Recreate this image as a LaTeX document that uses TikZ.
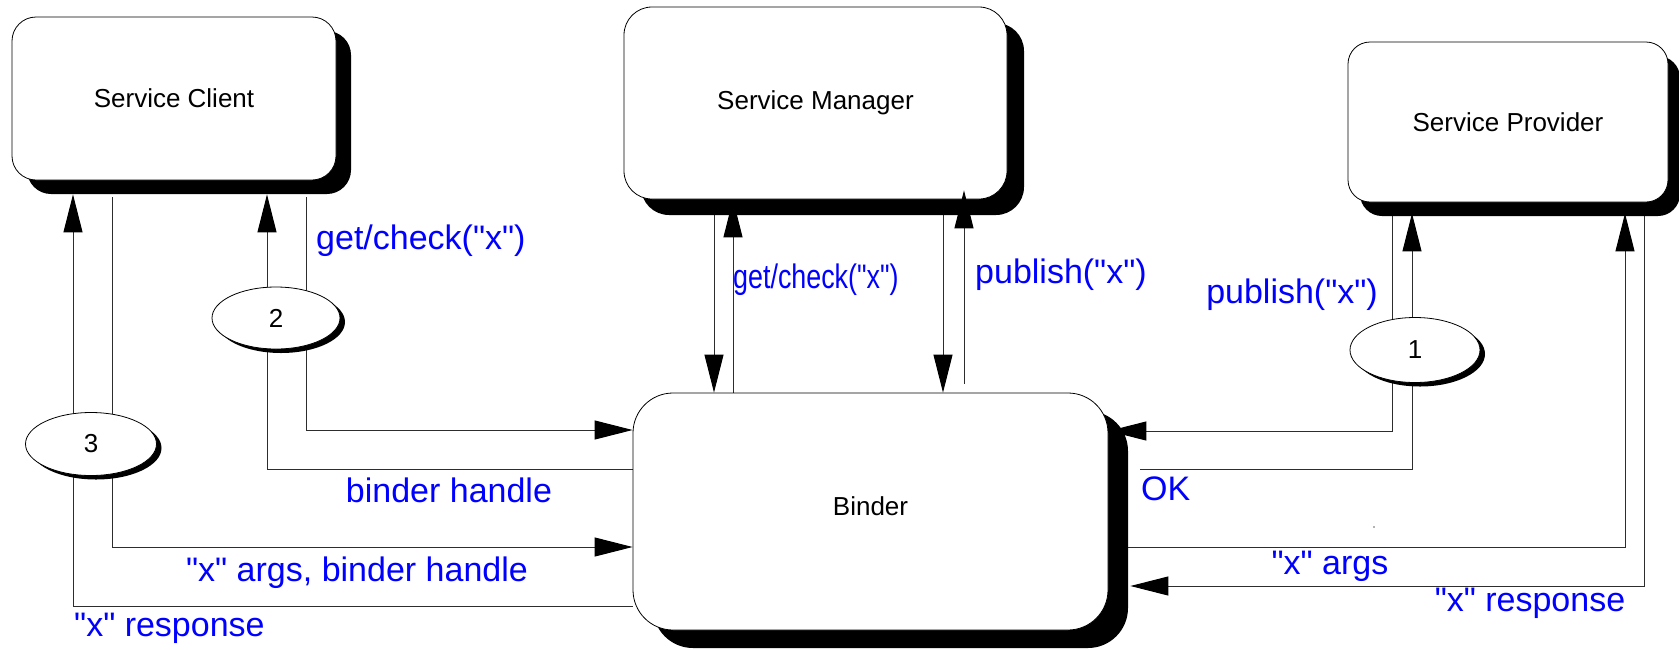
\documentclass[tikz,border=0pt]{standalone}
\usepackage{fontspec}
\setmainfont{Liberation Sans}[Ligatures=TeXOff]
\usepackage{graphicx}
\usetikzlibrary{arrows.meta,shadows,calc,backgrounds,shapes.geometric}
\definecolor{lblblue}{RGB}{0,0,255}
\definecolor{wire}{RGB}{45,45,45}
\begin{document}
\begin{tikzpicture}[x=1pt,y=-1pt,
  box/.style={draw=black, line width=0.8pt, fill=white, rectangle, inner sep=0pt,
    font=\fontsize{26}{30}\selectfont},
  bubble/.style={draw=black, line width=0.8pt, fill=white, ellipse, inner sep=0pt,
    font=\fontsize{26}{30}\selectfont,
    drop shadow={shadow xshift=5pt, shadow yshift=-4pt, fill=black, opacity=1}},
  lbl/.style={text=lblblue, inner sep=0pt, font=\fontsize{34}{40}\selectfont},
  conn/.style={draw=wire, line width=1pt},
  arr/.style={conn, -{Triangle[length=38pt,width=19pt,color=black]}}]

\useasboundingbox (0,0) rectangle (1679,649);

% process boxes
\node[box, minimum width=324pt, minimum height=163pt, rounded corners=24pt,
  drop shadow={shadow xshift=15pt, shadow yshift=-14pt, fill=black, opacity=1}]
  (client) at (174,98.5) {Service Client};
\node[box, minimum width=383pt, minimum height=192pt, rounded corners=28pt,
  drop shadow={shadow xshift=17pt, shadow yshift=-16pt, fill=black, opacity=1}]
  (manager) at (815.5,103) {Service Manager};
\node[box, minimum width=320pt, minimum height=160pt, rounded corners=22pt,
  drop shadow={shadow xshift=12pt, shadow yshift=-14pt, fill=black, opacity=1}]
  (provider) at (1508,122) {Service Provider};
\node[box, minimum width=475pt, minimum height=237pt, rounded corners=40pt, text depth=10pt,
  drop shadow={shadow xshift=20pt, shadow yshift=-18pt, fill=black, opacity=1}]
  (binder) at (870.5,511.5) {Binder};

% step bubbles
\node[bubble, minimum width=130pt, minimum height=65pt] (e1) at (1415,350) {1};
\node[bubble, minimum width=128pt, minimum height=62pt] (e2) at (276,318) {2};
\node[bubble, minimum width=131pt, minimum height=63pt] (e3) at (91,444) {3};

\begin{scope}[on background layer]
  % client side
  \draw[arr] (e3.center -| 73,0) -- ($(client.south -| 73,0)+(0,14)$);
  \draw[conn] ($(client.south -| 112,0)+(0,17)$) -- (e3.center -| 112,0);
  \draw[arr] (e2.center -| 267,0) -- ($(client.south -| 267,0)+(0,14)$);
  \draw[conn] ($(client.south -| 306,0)+(0,17)$) -- (e2.center -| 306,0);
  \draw[arr] (e2.center -| 306,0) |- (binder.west |- 0,430);
  \draw[conn] (binder.west |- 0,469) -| (e2.center -| 267,0);
  \draw[arr] (e3.center -| 112,0) |- (binder.west |- 0,547);
  \draw[conn] (binder.west |- 0,606) -| (e3.center -| 73,0);
  % manager
  \draw[arr] (manager.south -| 714,0) -- (binder.north -| 714,0);
  \draw[arr] (binder.north -| 733,0) -- (manager.south -| 733,0);
  \draw[arr] (manager.south -| 943,0) -- (binder.north -| 943,0);
  % provider side
  \draw[conn] (provider.south -| 1392,0) -- (e1.center -| 1392,0);
  \draw[arr] (e1.center -| 1412,0) -- ($(provider.south -| 1412,0)+(0,11)$);
  \draw[arr] (e1.center -| 1392,0) |- (binder.east |- 0,431);
  \draw[conn] ($(binder.east |- 0,469)+(32,0)$) -| (e1.center -| 1412,0);
  \draw[arr] ($(binder.east |- 0,547)+(20,0)$) -| ($(provider.south -| 1625,0)+(0,11)$);
  \draw[arr] (provider.south -| 1644,0) |- ($(binder.east |- 0,586)+(22,0)$);
\end{scope}

% publish arrow reaching into the manager box
\draw[arr] ($(binder.north -| 964,0)+(0,-9)$) -- ($(manager.south -| 964,0)+(0,-9)$);

% message labels
\node[lbl, anchor=base west] (lgcA) at (316,249) {get/check("x")};
\node[lbl, anchor=base] (lbhA) at (449,502) {binder handle};
\node[lbl, anchor=base] (largsA) at (357,581) {"x" args, binder handle};
\node[lbl, anchor=base west] (lrespA) at (74,636) {"x" response};
\node[lbl, anchor=base west] (lgcB) at (733,288) {\scalebox{0.79}[1]{get/check("x")}};
\node[lbl, anchor=base west] (lpubB) at (975,283) {publish("x")};
\node[lbl, anchor=base east] (lpubC) at (1378,303) {publish("x")};
\node[lbl, anchor=base west] (lok) at (1141,500) {OK};
\node[lbl, anchor=base] (largsC) at (1330,574) {"x" args};
\node[lbl, anchor=base] (lrespC) at (1530,611) {"x" response};

\fill[black!60] (1374,527) circle (0.8pt);
\end{tikzpicture}
\end{document}
